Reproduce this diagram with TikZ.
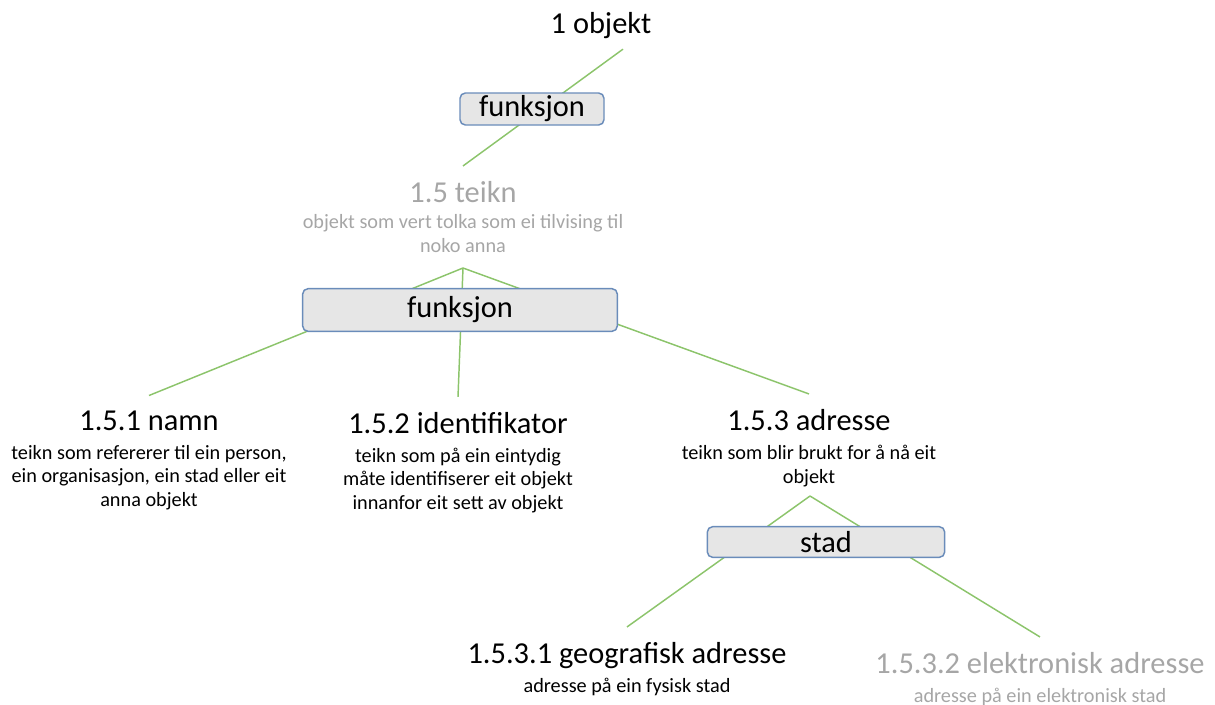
\documentclass[tikz,border=0pt]{standalone}
\usepackage{fontspec}
\setmainfont{Carlito}
\usetikzlibrary{positioning}
\definecolor{linkgreen}{HTML}{8CC46B}
\definecolor{boxblue}{HTML}{6A8CBA}
\definecolor{boxgray}{HTML}{E6E6E6}
\definecolor{fadegray}{HTML}{A6A6A6}
\begin{document}
\begin{tikzpicture}[x=0.75pt,y=-0.75pt,
    head/.style={font=\fontsize{22.8}{27}\selectfont, anchor=base, inner xsep=2pt, inner ysep=11pt},
    desc/.style={font=\fontsize{15.2}{17.6}\selectfont, anchor=base, align=center, inner sep=0pt},
    relbox/.style={draw=boxblue, fill=boxgray, line width=1.1pt, rounded corners=4pt,
        font=\fontsize{22.8}{27}\selectfont, inner sep=0pt},
    link/.style={linkgreen, line width=1.1pt},
    faded/.style={text=fadegray}]
    \useasboundingbox (0,0) rectangle (1215,704);
    % Concepts (desc nodes sit on their last baseline)
    \node [head] (objekt) at (601,33) {1 objekt};
    \node [head, faded] (teikn) at (463,202) {1.5 teikn};
    \node [desc, faded] (teikn-d) at (463,252) {objekt som vert tolka som ei tilvising til\\noko anna};
    \node [head] (namn) at (149,430) {1.5.1 namn};
    \node [desc] (namn-d) at (149,506) {teikn som refererer til ein person,\\ein organisasjon, ein stad eller eit\\anna objekt};
    \node [head] (ident) at (458,433) {1.5.2 identifikator};
    \node [desc] (ident-d) at (458,509) {teikn som på ein eintydig\\måte identifiserer eit objekt\\innanfor eit sett av objekt};
    \node [head] (adresse) at (809,430) {1.5.3 adresse};
    \node [desc] (adresse-d) at (809,483) {teikn som blir brukt for å nå eit\\objekt};
    \node [head] (geo) at (627,663) {1.5.3.1 geografisk adresse};
    \node [desc] (geo-d) at (627,692) {adresse på ein fysisk stad};
    \node [head, faded] (elek) at (1040,673) {1.5.3.2 elektronisk adresse};
    \node [desc, faded] (elek-d) at (1040,702) {adresse på ein elektronisk stad};
    \coordinate (teikn-fork) at (463,268);
    \coordinate (adresse-fork) at (810,496);
    % Links
    \draw [link] ([xshift=16.5pt,yshift=3pt]objekt.south) -- (teikn.north);
    \draw [link] (teikn-fork) -- (namn.north);
    \draw [link] (teikn-fork) -- (ident.north);
    \draw [link] (teikn-fork) -- (adresse.north);
    \draw [link] (adresse-fork) -- (geo.north);
    \draw [link] (adresse-fork) -- (elek.north);
    % Relation boxes
    \node [relbox, minimum width=108pt, minimum height=24pt] (funksjon1) at (532,109) {funksjon};
    \node [relbox, minimum width=236pt, minimum height=32pt] (funksjon2) at (460,310) {funksjon};
    \node [relbox, minimum width=178pt, minimum height=23pt] (stad) at (826,542) {stad};
\end{tikzpicture}
\end{document}
